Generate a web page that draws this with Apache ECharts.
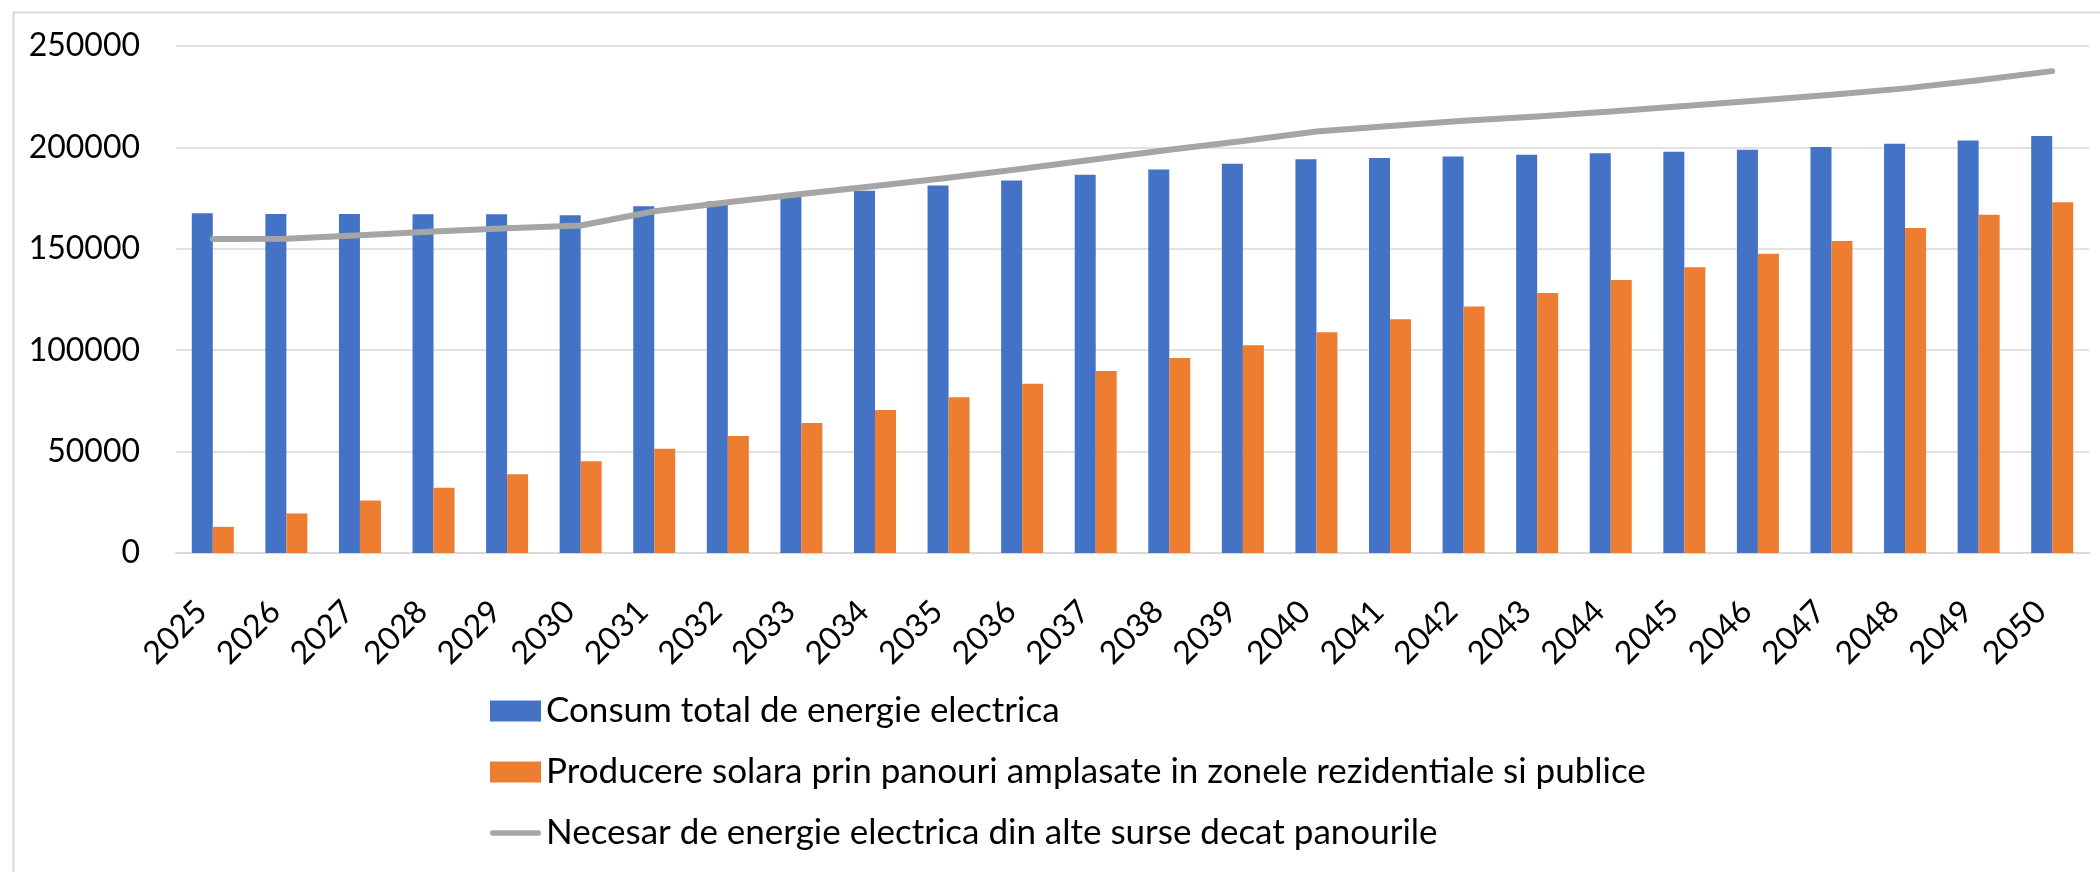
<!DOCTYPE html>
<html>
<head>
<meta charset="utf-8">
<script src="https://cdn.jsdelivr.net/npm/echarts@6/dist/echarts.min.js"></script>
<style>
html,body{margin:0;padding:0;background:#fff;}
#chart{width:2100px;height:872px;}
</style>
</head>
<body>
<div id="chart"></div>
<script>
const years = ['2025','2026','2027','2028','2029','2030','2031','2032','2033','2034','2035','2036','2037','2038','2039','2040','2041','2042','2043','2044','2045','2046','2047','2048','2049','2050'];
const consumTotal = [167500,167200,167200,167000,167000,166600,171000,173400,176000,178600,181200,183700,186500,189100,191900,194100,194800,195500,196400,197100,197900,198800,200200,201800,203400,205600];
const productieSolara = [12900,19500,25900,32200,38800,45200,51400,57700,64100,70500,76800,83400,89800,96100,102500,108900,115300,121600,128200,134600,140900,147500,153900,160200,166800,173000];
const necesarAlteSurse = [154800,155000,156700,158500,160100,161500,168500,173000,177000,181000,185000,189500,194200,198800,203200,207800,210500,213100,215200,217700,220400,223100,226000,229100,233100,237600];
const seriesNames = [
  'Consum total de energie electrica',
  'Producere solara prin panouri amplasate in zonele rezidentiale si publice',
  'Necesar de energie electrica din alte surse decat panourile'
];

const FONT = 'Lato';
const chart = echarts.init(document.getElementById('chart'), null, {renderer: 'canvas'});
chart.setOption({
  animation: false,
  backgroundColor: '#fff',
  textStyle: {fontFamily: FONT},
  graphic: [{
    type: 'rect', left: 11, top: 10, silent: true,
    shape: {width: 2300, height: 1000},
    style: {fill: 'none', stroke: '#D9D9D9', lineWidth: 2}
  }],
  grid: {left: 176, right: 11, top: 46, bottom: 319, containLabel: false, outerBoundsMode: 'none'},
  legend: {
    orient: 'vertical', left: 490, top: 691, padding: 0,
    itemWidth: 51, itemHeight: 21, itemGap: 21,
    textStyle: {fontFamily: FONT, fontSize: 35, color: '#000', lineHeight: 40},
    data: [
      {name: seriesNames[0], icon: 'rect'},
      {name: seriesNames[1], icon: 'rect'},
      {name: seriesNames[2], icon: 'path://M3,0 L54,0 A3,3 0 0 1 54,6 L3,6 A3,3 0 0 1 3,0 Z', itemStyle: {color: '#A5A5A5'}}
    ]
  },
  xAxis: {
    type: 'category', data: years,
    axisLine: {lineStyle: {color: '#D9D9D9', width: 2}},
    axisTick: {show: false},
    axisLabel: {interval: 0, rotate: 45, margin: 42, padding: [0, 16, 0, 0], fontFamily: FONT, fontSize: 32, color: '#000'}
  },
  yAxis: {
    type: 'value', min: 0, max: 250000, interval: 50000,
    axisLine: {show: false}, axisTick: {show: false},
    splitLine: {lineStyle: {color: '#D9D9D9', width: 1.5}},
    axisLabel: {margin: 36, fontFamily: FONT, fontSize: 32, color: '#000', formatter: function (v) { return String(v); }}
  },
  series: [
    {name: seriesNames[0], type: 'bar', data: consumTotal, barWidth: 21, barGap: '0%', itemStyle: {color: '#4472C4'}},
    {name: seriesNames[1], type: 'bar', data: productieSolara, barWidth: 21, barGap: '0%', itemStyle: {color: '#ED7D31'}},
    {name: seriesNames[2], type: 'line', data: necesarAlteSurse, symbol: 'none', showSymbol: false,
     lineStyle: {color: '#A5A5A5', width: 6, cap: 'round', join: 'round'}, itemStyle: {color: '#A5A5A5'}}
  ]
});
</script>
</body>
</html>
